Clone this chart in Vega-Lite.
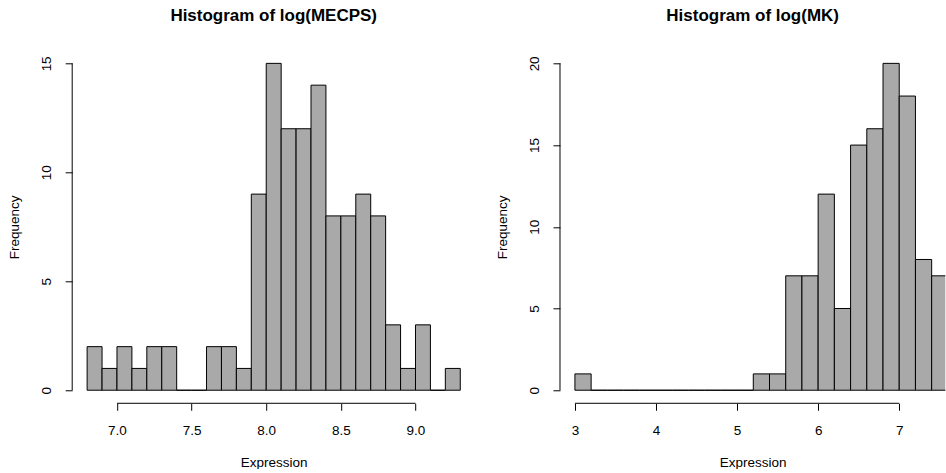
{
  "$schema": "https://vega.github.io/schema/vega-lite/v6.json",
  "background": "white",
  "padding": {"left": 7.2, "top": 6.3, "right": 0, "bottom": 0},
  "bounds": "flush",
  "spacing": 84.8,
  "config": {
    "view": {"stroke": null},
    "font": "Liberation Sans",
    "axis": {
      "domain": false,
      "grid": false,
      "ticks": true,
      "tickSize": 7,
      "tickColor": "black",
      "tickWidth": 1,
      "labelColor": "black",
      "labelFontSize": 13.5,
      "labelFont": "Liberation Sans",
      "titleColor": "black",
      "titleFontSize": 13.5,
      "titleFontWeight": "normal",
      "titleFont": "Liberation Sans"
    },
    "axisX": {"labelBaseline": "alphabetic", "labelPadding": 24, "titleBaseline": "alphabetic", "titleY": 63, "labelFlush": false},
    "axisY": {"labelAngle": 270, "labelAlign": "center", "labelBaseline": "alphabetic", "labelPadding": 14.5, "titleAngle": 270, "titleBaseline": "alphabetic", "titleAlign": "center", "titleX": -53.6, "labelFlush": false},
    "title": {"fontSize": 17, "fontWeight": "bold", "color": "black", "anchor": "middle", "baseline": "alphabetic", "offset": 25.8, "frame": "group", "font": "Liberation Sans"}
  },
  "hconcat": [
    {
      "width": 403,
      "height": 353,
      "title": "Histogram of log(MECPS)",
      "data": {"values": [
        {"start": 6.8, "end": 6.9, "count": 2},
        {"start": 6.9, "end": 7.0, "count": 1},
        {"start": 7.0, "end": 7.1, "count": 2},
        {"start": 7.1, "end": 7.2, "count": 1},
        {"start": 7.2, "end": 7.3, "count": 2},
        {"start": 7.3, "end": 7.4, "count": 2},
        {"start": 7.4, "end": 7.5, "count": 0},
        {"start": 7.5, "end": 7.6, "count": 0},
        {"start": 7.6, "end": 7.7, "count": 2},
        {"start": 7.7, "end": 7.8, "count": 2},
        {"start": 7.8, "end": 7.9, "count": 1},
        {"start": 7.9, "end": 8.0, "count": 9},
        {"start": 8.0, "end": 8.1, "count": 15},
        {"start": 8.1, "end": 8.2, "count": 12},
        {"start": 8.2, "end": 8.3, "count": 12},
        {"start": 8.3, "end": 8.4, "count": 14},
        {"start": 8.4, "end": 8.5, "count": 8},
        {"start": 8.5, "end": 8.6, "count": 8},
        {"start": 8.6, "end": 8.7, "count": 9},
        {"start": 8.7, "end": 8.8, "count": 8},
        {"start": 8.8, "end": 8.9, "count": 3},
        {"start": 8.9, "end": 9.0, "count": 1},
        {"start": 9.0, "end": 9.1, "count": 3},
        {"start": 9.1, "end": 9.2, "count": 0},
        {"start": 9.2, "end": 9.3, "count": 1}
      ]},
      "layer": [
        {
          "mark": {"type": "rect", "fill": "#A9A9A9", "stroke": "black", "strokeWidth": 1},
          "encoding": {
            "x": {"field": "start", "type": "quantitative",
                  "scale": {"domain": [6.7, 9.4], "nice": false, "zero": false},
                  "axis": {"values": [7, 7.5, 8, 8.5, 9], "format": ".1f", "title": "Expression"}},
            "x2": {"field": "end"},
            "y": {"field": "count", "type": "quantitative",
                  "scale": {"domain": [-0.6, 15.6], "nice": false, "zero": false},
                  "axis": {"values": [0, 5, 10, 15], "format": "d", "title": "Frequency"}},
            "y2": {"datum": 0}
          }
        },
        {
          "data": {"values": [{}]},
          "mark": {"type": "rule", "color": "black", "strokeWidth": 1},
          "encoding": {"x": {"datum": 7}, "x2": {"datum": 9}, "y": {"datum": -0.6}}
        },
        {
          "data": {"values": [{}]},
          "mark": {"type": "rule", "color": "black", "strokeWidth": 1},
          "encoding": {"x": {"datum": 6.7}, "y": {"datum": 0}, "y2": {"datum": 15}}
        }
      ]
    },
    {
      "width": 385.3,
      "height": 353,
      "title": "Histogram of log(MK)",
      "data": {"values": [
        {"start": 3.0, "end": 3.2, "count": 1},
        {"start": 3.2, "end": 3.4, "count": 0},
        {"start": 3.4, "end": 3.6, "count": 0},
        {"start": 3.6, "end": 3.8, "count": 0},
        {"start": 3.8, "end": 4.0, "count": 0},
        {"start": 4.0, "end": 4.2, "count": 0},
        {"start": 4.2, "end": 4.4, "count": 0},
        {"start": 4.4, "end": 4.6, "count": 0},
        {"start": 4.6, "end": 4.8, "count": 0},
        {"start": 4.8, "end": 5.0, "count": 0},
        {"start": 5.0, "end": 5.2, "count": 0},
        {"start": 5.2, "end": 5.4, "count": 1},
        {"start": 5.4, "end": 5.6, "count": 1},
        {"start": 5.6, "end": 5.8, "count": 7},
        {"start": 5.8, "end": 6.0, "count": 7},
        {"start": 6.0, "end": 6.2, "count": 12},
        {"start": 6.2, "end": 6.4, "count": 5},
        {"start": 6.4, "end": 6.6, "count": 15},
        {"start": 6.6, "end": 6.8, "count": 16},
        {"start": 6.8, "end": 7.0, "count": 20},
        {"start": 7.0, "end": 7.2, "count": 18},
        {"start": 7.2, "end": 7.4, "count": 8},
        {"start": 7.4, "end": 7.6, "count": 7}
      ]},
      "layer": [
        {
          "mark": {"type": "rect", "fill": "#A9A9A9", "stroke": "black", "strokeWidth": 1, "clip": true},
          "encoding": {
            "x": {"field": "start", "type": "quantitative",
                  "scale": {"domain": [2.816, 7.568], "nice": false, "zero": false},
                  "axis": {"values": [3, 4, 5, 6, 7], "format": "d", "title": "Expression"}},
            "x2": {"field": "end"},
            "y": {"field": "count", "type": "quantitative",
                  "scale": {"domain": [-0.8, 20.8], "nice": false, "zero": false},
                  "axis": {"values": [0, 5, 10, 15, 20], "format": "d", "title": "Frequency"}},
            "y2": {"datum": 0}
          }
        },
        {
          "data": {"values": [{}]},
          "mark": {"type": "rule", "color": "black", "strokeWidth": 1},
          "encoding": {"x": {"datum": 3}, "x2": {"datum": 7}, "y": {"datum": -0.8}}
        },
        {
          "data": {"values": [{}]},
          "mark": {"type": "rule", "color": "black", "strokeWidth": 1},
          "encoding": {"x": {"datum": 2.816}, "y": {"datum": 0}, "y2": {"datum": 20}}
        }
      ]
    }
  ]
}
